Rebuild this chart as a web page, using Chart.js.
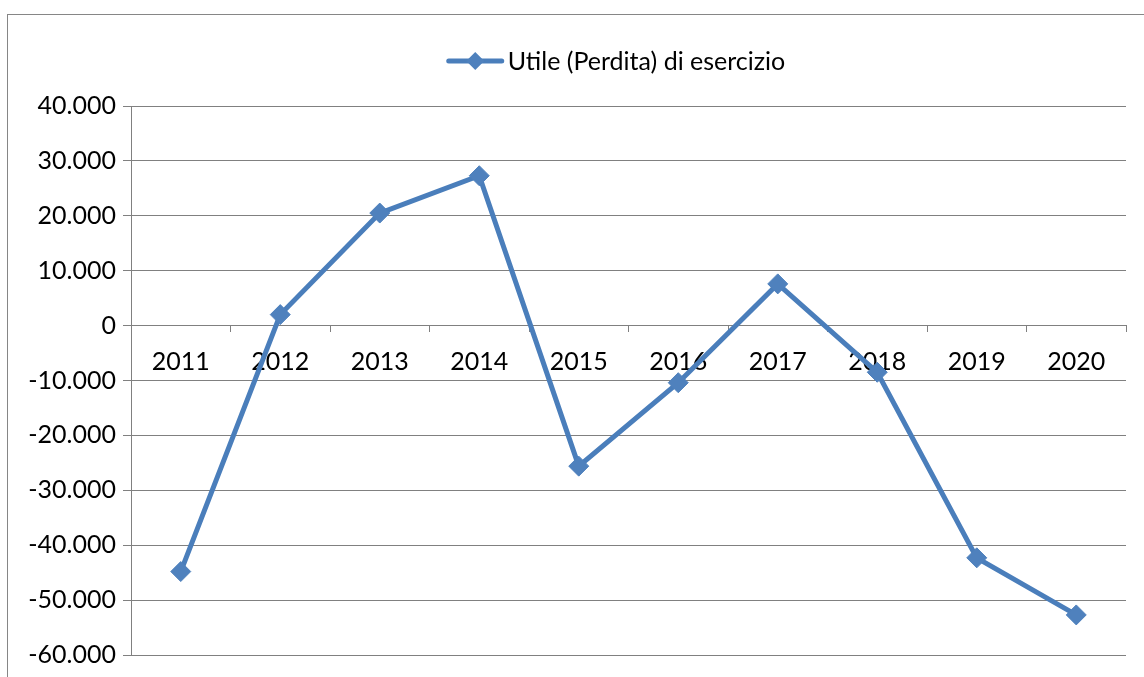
<!DOCTYPE html>
<html>
<head>
<meta charset="utf-8">
<script src="https://cdn.jsdelivr.net/npm/chart.js@4.4.0/dist/chart.umd.min.js"></script>
<style>
  html, body { margin: 0; padding: 0; background: #fff; overflow: hidden; }
  #wrap { position: relative; width: 1144px; height: 677px; }
  #frame { position: absolute; left: 7px; top: 14px; width: 1200px; height: 700px; border: 1px solid #868686; }
  canvas { position: absolute; left: 0; top: 0; }
</style>
</head>
<body>
<div id="wrap">
  <div id="frame"></div>
  <canvas id="chart" width="1144" height="677"></canvas>
</div>
<script>
const years = ["2011", "2012", "2013", "2014", "2015", "2016", "2017", "2018", "2019", "2020"];
const utile = [-44800, 2000, 20500, 27300, -25600, -10400, 7600, -8500, -42300, -52700];
const seriesLabel = "Utile (Perdita) di esercizio";
const yMin = -60000;
const yMax = 40000;
const yStep = 10000;

const lineColor = "#4a7ebb";
const markerColor = "#4f81bd";
const axisColor = "#808080";
const fontFamily = "Lato, 'Open Sans', sans-serif";
const fontSize = 25;

function formatIt(v) {
  const s = Math.abs(v).toString().replace(/\B(?=(\d{3})+(?!\d))/g, ".");
  return (v < 0 ? "-" : "") + s;
}

// Excel style legend: short line with a diamond, then the series name
const excelLegend = {
  id: "excelLegend",
  afterDraw(chart) {
    const ctx = chart.ctx;
    const ds = chart.data.datasets[0];
    ctx.save();
    ctx.font = fontSize + "px " + fontFamily;
    const textW = ctx.measureText(ds.label).width;
    const lineW = 53, gap = 6;
    const total = lineW + gap + textW;
    const cx = 617, cy = 61;
    const x0 = cx - total / 2;
    ctx.strokeStyle = lineColor;
    ctx.lineWidth = 5;
    ctx.lineCap = "round";
    ctx.beginPath();
    ctx.moveTo(x0, cy);
    ctx.lineTo(x0 + lineW, cy);
    ctx.stroke();
    ctx.fillStyle = markerColor;
    ctx.beginPath();
    ctx.moveTo(x0 + lineW / 2, cy - 9);
    ctx.lineTo(x0 + lineW / 2 + 9, cy);
    ctx.lineTo(x0 + lineW / 2, cy + 9);
    ctx.lineTo(x0 + lineW / 2 - 9, cy);
    ctx.closePath();
    ctx.fill();
    ctx.fillStyle = "#000";
    ctx.textBaseline = "middle";
    ctx.textAlign = "left";
    ctx.fillText(ds.label, x0 + lineW + gap, cy + 1);
    ctx.restore();
  }
};

new Chart(document.getElementById("chart"), {
  type: "line",
  data: {
    labels: years,
    datasets: [{
      label: seriesLabel,
      data: utile,
      borderColor: lineColor,
      borderWidth: 5,
      backgroundColor: markerColor,
      pointStyle: "rectRot",
      pointRadius: 10,
      pointBorderWidth: 1,
      pointBorderColor: markerColor,
      pointBackgroundColor: markerColor,
      tension: 0,
      fill: false
    }]
  },
  options: {
    responsive: false,
    animation: false,
    layout: { padding: { left: 0, right: 18, top: 106, bottom: 21 } },
    plugins: {
      legend: { display: false },
      tooltip: { enabled: false }
    },
    scales: {
      x: {
        type: "category",
        position: { y: 0 },
        offset: true,
        grid: {
          display: true,
          drawOnChartArea: false,
          drawTicks: true,
          tickLength: 6,
          offset: true,
          color: axisColor,
          lineWidth: 1
        },
        border: { display: true, color: axisColor, width: 1 },
        ticks: {
          color: "#000",
          padding: 15,
          maxRotation: 0,
          autoSkip: false,
          font: { family: fontFamily, size: fontSize }
        }
      },
      y: {
        min: yMin,
        max: yMax,
        afterFit(scale) { scale.width = 131; },
        grid: {
          color: axisColor,
          lineWidth: 1,
          tickLength: 8
        },
        border: { display: true, color: axisColor, width: 1 },
        ticks: {
          stepSize: yStep,
          color: "#000",
          padding: 7,
          font: { family: fontFamily, size: fontSize },
          callback: (v) => formatIt(v)
        }
      }
    }
  },
  plugins: [excelLegend]
});
</script>
</body>
</html>
